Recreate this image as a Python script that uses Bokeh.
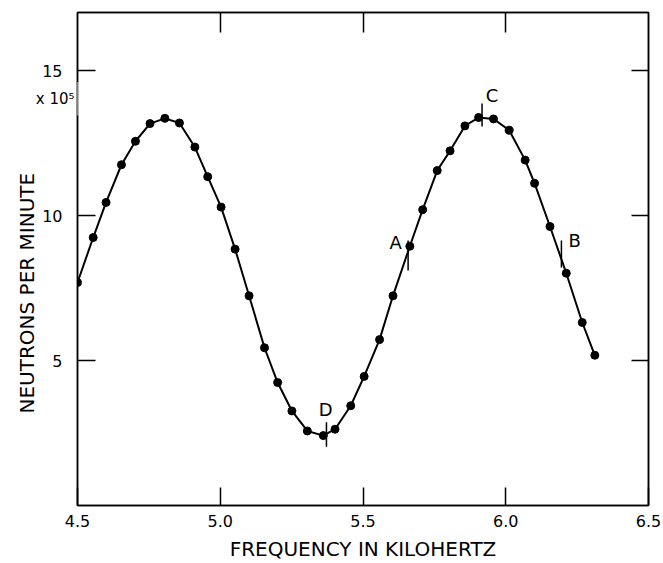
from bokeh.plotting import figure
from bokeh.models import LinearAxis, FixedTicker, Range1d, Title, BoxAnnotation
from bokeh.embed import file_html
from bokeh.resources import INLINE
from bokeh.core.properties import value

# ---- data ----
freq = [4.500, 4.555, 4.600, 4.654, 4.703, 4.754, 4.806, 4.857, 4.911, 4.956,
        5.003, 5.052, 5.101, 5.155, 5.201, 5.251, 5.305, 5.361, 5.402, 5.457,
        5.504, 5.558, 5.605, 5.664, 5.709, 5.760, 5.805, 5.857, 5.905, 5.957,
        6.012, 6.068, 6.101, 6.155, 6.212, 6.268, 6.312]
neutrons = [7.69, 9.24, 10.45, 11.75, 12.56, 13.17, 13.35, 13.19, 12.36, 11.34,
            10.29, 8.84, 7.23, 5.44, 4.24, 3.26, 2.57, 2.41, 2.63, 3.44,
            4.45, 5.72, 7.23, 8.94, 10.20, 11.55, 12.23, 13.09, 13.38, 13.33,
            12.94, 11.91, 11.11, 9.62, 8.01, 6.31, 5.18]

mark_names = ["A", "B", "C", "D"]
mark_x = [5.658, 6.195, 5.917, 5.372]
mark_lo = [8.10, 8.21, 13.07, 2.03]
mark_hi = [9.14, 9.14, 13.86, 2.87]
mark_label_x = [5.614, 6.241, 5.952, 5.369]
mark_label_y = [9.07, 9.14, 14.14, 3.30]

x_ticks = [4.5, 5.0, 5.5, 6.0, 6.5]
x_tick_labels = ["4.5", "5.0", "5.5", "6.0", "6.5"]
y_ticks = [5, 10, 15]
y_tick_labels = ["5", "10", "15"]
scale_pos = 14.03
scale_text = "x 10\u2075"
x_title = "FREQUENCY IN KILOHERTZ"
y_title = "NEUTRONS PER MINUTE"

FONT = "DejaVu Sans"

p = figure(width=663, height=563, x_range=Range1d(4.5, 6.5), y_range=Range1d(0, 17),
           output_backend="svg", toolbar_location=None,
           min_border_left=77, min_border_right=15, min_border_top=12, min_border_bottom=58)
p.grid.visible = False
p.background_fill_color = "white"
p.border_fill_color = "white"
p.outline_line_color = "black"
p.outline_line_width = 1.5

def style_axis(ax, ticks, tick_len):
    ax.ticker = FixedTicker(ticks=ticks)
    ax.major_tick_in = tick_len
    ax.major_tick_out = 0
    ax.minor_tick_line_color = None
    ax.major_tick_line_width = 1.5
    ax.major_tick_line_color = "black"
    ax.axis_line_color = "black"
    ax.axis_line_width = 1.5

def blank_labels(ax, ticks):
    ax.major_label_overrides = {t: "" for t in ticks}
    ax.major_label_text_font_size = "0px"
    ax.major_label_standoff = 0

xa = p.xaxis[0]
style_axis(xa, x_ticks, 18)
xa.major_label_overrides = {t: l for t, l in zip(x_ticks, x_tick_labels)}
xa.major_label_text_font = FONT
xa.major_label_text_font_size = "16px"
xa.major_label_text_color = "black"
xa.major_label_standoff = 9
xa.axis_label = x_title
xa.axis_label_text_font = FONT
xa.axis_label_text_font_size = "20px"
xa.axis_label_text_font_style = "normal"
xa.axis_label_text_color = "black"
xa.axis_label_standoff = 7

ya = p.yaxis[0]
style_axis(ya, y_ticks, 18)
ya.major_label_overrides = {t: l for t, l in zip(y_ticks, y_tick_labels)}
ya.major_label_text_font = FONT
ya.major_label_text_font_size = "16px"
ya.major_label_text_color = "black"
ya.major_label_standoff = 15

# y title: a side-panel title so it can sit lower than the frame centre
ytitle = Title(text=y_title, align="left", offset=92, vertical_align="middle", standoff=0,
               text_font=FONT, text_font_size="20px", text_font_style="normal",
               text_color="black")
p.add_layout(ytitle, "left")

# scale factor "x 10^5" under the 15 tick, right up against the frame line
scale_ax = LinearAxis(ticker=FixedTicker(ticks=[scale_pos]))
scale_ax.major_label_overrides = {scale_pos: scale_text}
scale_ax.major_tick_line_color = None
scale_ax.minor_tick_line_color = None
scale_ax.axis_line_color = None
scale_ax.major_label_text_font = FONT
scale_ax.major_label_text_font_size = "15px"
scale_ax.major_label_text_color = "black"
scale_ax.major_label_standoff = -67
p.add_layout(scale_ax, "left")

top = LinearAxis()
style_axis(top, [5.0, 5.5, 6.0], 20)
blank_labels(top, [5.0, 5.5, 6.0])
p.add_layout(top, "above")

right = LinearAxis()
style_axis(right, y_ticks, 17)
blank_labels(right, y_ticks)
p.add_layout(right, "right")

# small break in the left frame line behind the scale note
p.add_layout(BoxAnnotation(left=4.49, right=4.503, bottom=13.45, top=14.6,
                           fill_color="white", fill_alpha=1.0, line_color=None,
                           level="overlay"))

p.line(freq, neutrons, line_width=2, color="black")
p.scatter(freq, neutrons, size=8, color="black")

p.segment(x0=mark_x, y0=mark_lo, x1=mark_x, y1=mark_hi, line_width=1.5, color="black")
p.text(x=mark_label_x, y=mark_label_y, text=mark_names, text_font=value(FONT),
       text_font_size="18px", text_align="center", text_baseline="middle", text_color="black")

open("out.html", "w").write(file_html(p, INLINE))
